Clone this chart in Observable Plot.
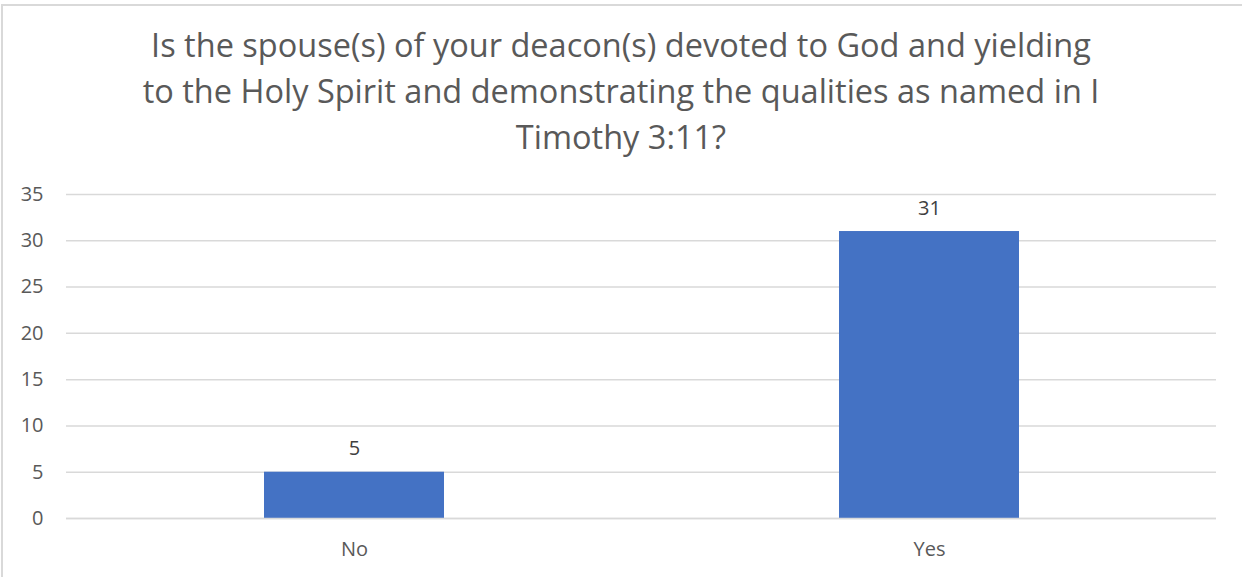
<!DOCTYPE html>
<html>
<head>
<meta charset="utf-8">
<script src="https://cdn.jsdelivr.net/npm/d3@7"></script>
<script src="https://cdn.jsdelivr.net/npm/@observablehq/plot@0.6"></script>
<style>
  html, body { margin: 0; padding: 0; background: #fff; }
  #wrap { position: relative; width: 1242px; height: 577px; overflow: hidden; font-family: "Open Sans", sans-serif; }
  #frame { position: absolute; left: 1px; top: 4px; width: 1300px; height: 700px; border-left: 2px solid #d9d9d9; border-top: 2px solid #d9d9d9; box-sizing: border-box; }
  #title { position: absolute; left: 0; top: 0; width: 1242px; height: 170px; text-align: center; color: #595959; font-size: 32.5px; line-height: 46px; padding-top: 22px; box-sizing: border-box; }
  #chart { position: absolute; left: 0; top: 170px; }
</style>
</head>
<body>
<div id="wrap">
  <div id="frame"></div>
  <div id="title">Is the spouse(s) of your deacon(s) devoted to God and yielding<br>to the Holy Spirit and demonstrating the qualities as named in I<br>Timothy 3:11?</div>
  <div id="chart"></div>
</div>
<script>
const categories = ["No", "Yes"];
const counts = [5, 31];
const yTicks = [0, 5, 10, 15, 20, 25, 30, 35];

const data = categories.map((c, i) => ({category: c, count: counts[i]}));

const plot = Plot.plot({
  width: 1242,
  height: 407,
  marginLeft: 66,
  marginRight: 26,
  marginTop: 24,
  marginBottom: 59,
  style: {fontFamily: "Open Sans, sans-serif", fontSize: "20px", color: "#595959", background: "transparent", overflow: "visible"},
  x: {domain: categories, paddingInner: 0.687, paddingOuter: 0.3435, label: null},
  y: {domain: [0, 35], label: null},
  marks: [
    Plot.gridY(yTicks, {stroke: "#d9d9d9", strokeOpacity: 1, strokeWidth: 1.5}),
    Plot.barY(data, {x: "category", y: "count", fill: "#4472C4"}),
    Plot.ruleY([0], {stroke: "#d9d9d9", strokeWidth: 1.5}),
    Plot.text(data, {x: "category", y: "count", text: d => String(d.count), lineAnchor: "bottom", dy: -17, fill: "#404040", fontSize: 20}),
    Plot.axisY(yTicks, {tickSize: 0, tickPadding: 23, fill: "#595959", fontSize: 20, label: null}),
    Plot.axisX({tickSize: 0, tickPadding: 23, fill: "#595959", fontSize: 20, label: null})
  ]
});
document.getElementById("chart").appendChild(plot);
</script>
</body>
</html>
